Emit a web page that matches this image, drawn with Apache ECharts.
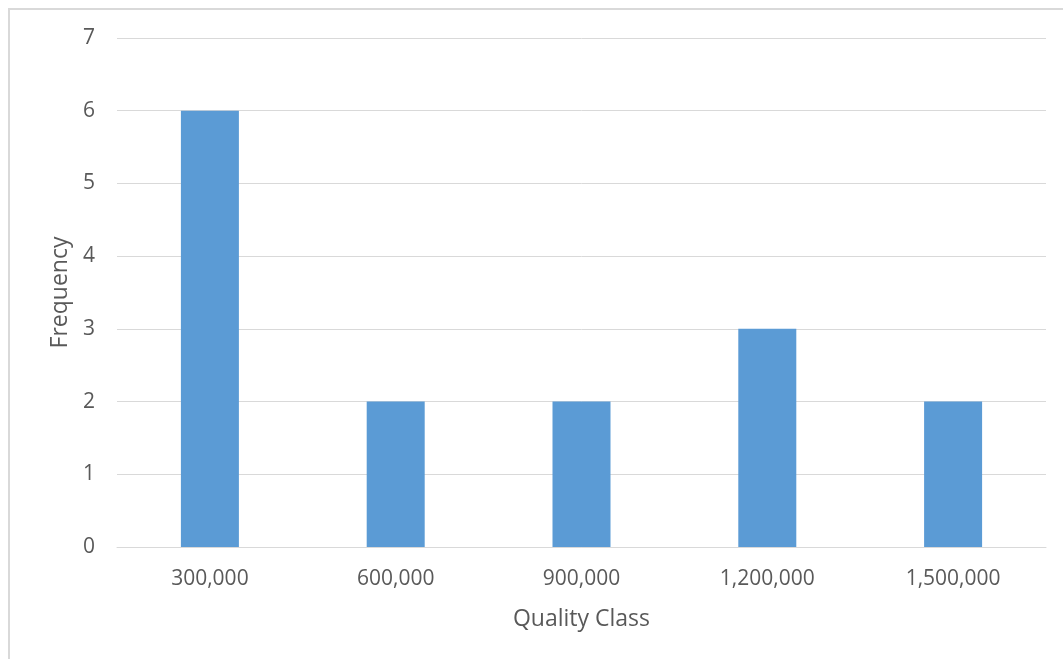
<!DOCTYPE html>
<html>
<head>
<meta charset="utf-8">
<script src="https://cdn.jsdelivr.net/npm/echarts@6/dist/echarts.min.js"></script>
<style>
  html, body { margin: 0; padding: 0; background: #fff; }
  #main { width: 1063px; height: 659px; }
</style>
</head>
<body>
<div id="main"></div>
<script>
var classes = ['300,000', '600,000', '900,000', '1,200,000', '1,500,000'];
var frequency = [6, 2, 2, 3, 2];

var chartDom = document.getElementById('main');
var myChart = echarts.init(chartDom);
var font = 'Open Sans';

var option = {
  animation: false,
  backgroundColor: '#fff',
  textStyle: { fontFamily: font },
  graphic: [
    {
      type: 'rect',
      shape: { x: 9, y: 9, width: 1100, height: 700 },
      style: { fill: null, stroke: '#d9d9d9', lineWidth: 2 },
      silent: true
    }
  ],
  grid: {
    left: 117,
    right: 17,
    top: 38,
    bottom: 112
  },
  xAxis: {
    type: 'category',
    data: classes,
    name: 'Quality Class',
    nameLocation: 'middle',
    nameGap: 61,
    nameTextStyle: { color: '#595959', fontSize: 23, fontFamily: font },
    axisLine: { lineStyle: { color: '#d9d9d9', width: 1 } },
    axisTick: { show: false },
    axisLabel: { color: '#595959', fontSize: 21, margin: 22, fontFamily: font }
  },
  yAxis: {
    type: 'value',
    min: 0,
    max: 7,
    interval: 1,
    name: 'Frequency',
    nameLocation: 'middle',
    nameGap: 45,
    nameTextStyle: { color: '#595959', fontSize: 23, fontFamily: font },
    axisLine: { show: false },
    axisTick: { show: false },
    axisLabel: { color: '#595959', fontSize: 21, margin: 22, fontFamily: font },
    splitLine: { lineStyle: { color: '#d9d9d9', width: 1 } }
  },
  series: [
    {
      type: 'bar',
      data: frequency,
      barWidth: 58,
      itemStyle: { color: '#5b9bd5' }
    }
  ]
};

option && myChart.setOption(option);
</script>
</body>
</html>
